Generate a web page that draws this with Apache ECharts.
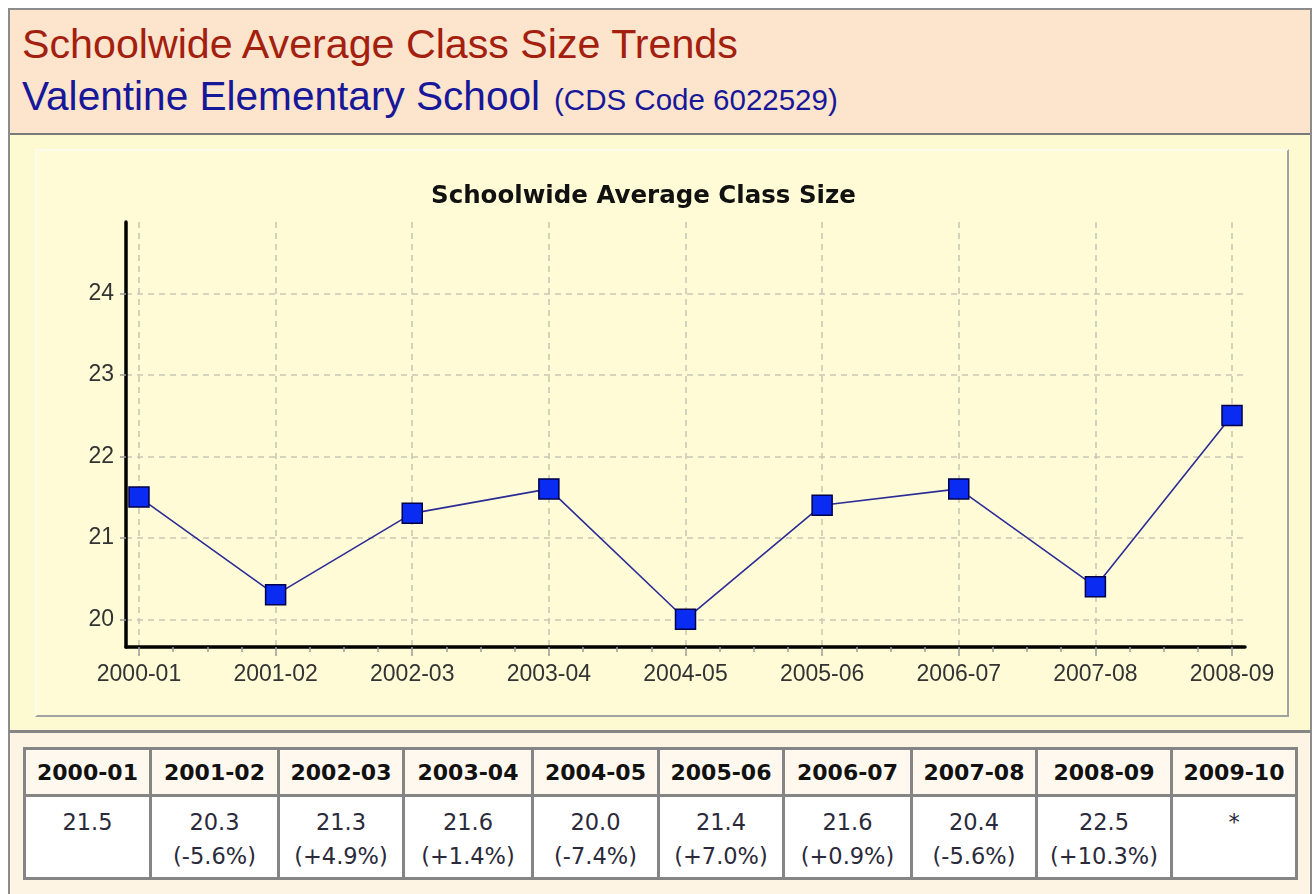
<!DOCTYPE html>
<html>
<head>
<meta charset="utf-8">
<title>Schoolwide Average Class Size Trends</title>
<script src="https://cdn.jsdelivr.net/npm/echarts@6/dist/echarts.min.js"></script>
<style>
  html, body { margin: 0; padding: 0; background: #fff; }
  #page { position: relative; width: 1315px; height: 894px; overflow: hidden; }
  #frame { position: absolute; left: 8px; top: 8px; width: 1300px; height: 900px; border: 2px solid #8c8c8c; }
  #head { position: absolute; left: 10px; top: 10px; width: 1300px; height: 123px; background: #fde4cd; }
  #head .t1 { position: absolute; left: 12px; top: 11px; font: 41.2px "Liberation Sans", Arial, sans-serif; color: #a3200f; white-space: nowrap; }
  #head .t2 { position: absolute; left: 12px; top: 63px; font: 40.6px "Liberation Sans", Arial, sans-serif; color: #17179a; white-space: nowrap; }
  #head .t2 small { font-size: 29.5px; margin-left: 14px; }
  #sep1 { position: absolute; left: 10px; top: 133px; width: 1300px; height: 2px; background: #7a7a7a; }
  #mid { position: absolute; left: 10px; top: 135px; width: 1300px; height: 595px; background: #fdfad2; }
  #panel { position: absolute; left: 35px; top: 149px; width: 1250px; height: 564px;
           background: #fefbd6; border-top: 2px solid #fbfbee; border-left: 2px solid #fbfbee;
           border-right: 2px solid #a2a2a2; border-bottom: 2px solid #a2a2a2; }
  #sep2 { position: absolute; left: 10px; top: 730px; width: 1300px; height: 3px; background: #858585; }
  #bot { position: absolute; left: 10px; top: 733px; width: 1300px; height: 170px; background: #fef4e4; }
  #tbl { position: absolute; left: 23px; top: 747px; width: 1272px; border-collapse: collapse; table-layout: fixed;
         font-family: "DejaVu Sans", Verdana, sans-serif; color: #222; }
  #tbl th, #tbl td { border: 3px solid #858585; text-align: center; padding: 0; }
  #tbl th { background: #fef8ee; height: 44px; font-size: 22px; font-weight: bold; color: #111; }
  #tbl td { background: #fff; height: 72px; font-size: 22.5px; line-height: 34px; vertical-align: top; padding-top: 8px; color: #2a2a3a; }
  #chart { position: absolute; left: 0; top: 0; width: 1315px; height: 894px; }
</style>
</head>
<body>
<div id="page">
  <div id="frame"></div>
  <div id="head">
    <div class="t1">Schoolwide Average Class Size Trends</div>
    <div class="t2">Valentine Elementary School<small>(CDS Code 6022529)</small></div>
  </div>
  <div id="sep1"></div>
  <div id="mid"></div>
  <div id="panel"></div>
  <div id="sep2"></div>
  <div id="bot"></div>
  <table id="tbl"><colgroup id="cols"></colgroup><thead><tr id="hrow"></tr></thead><tbody><tr id="drow"></tr></tbody></table>
  <div id="chart"></div>
</div>
<script>
// 图表数据
const years = ["2000-01", "2001-02", "2002-03", "2003-04", "2004-05", "2005-06", "2006-07", "2007-08", "2008-09"];
const classSize = [21.5, 20.3, 21.3, 21.6, 20.0, 21.4, 21.6, 20.4, 22.5];
const yTicks = [20, 21, 22, 23, 24];

// 表格数据
const tableYears = ["2000-01", "2001-02", "2002-03", "2003-04", "2004-05", "2005-06", "2006-07", "2007-08", "2008-09", "2009-10"];
const tableValues = ["21.5", "20.3", "21.3", "21.6", "20.0", "21.4", "21.6", "20.4", "22.5", "*"];
const tableChanges = ["", "(-5.6%)", "(+4.9%)", "(+1.4%)", "(-7.4%)", "(+7.0%)", "(+0.9%)", "(-5.6%)", "(+10.3%)", ""];
const colWidths = [126, 128, 125, 129, 126, 125, 128, 125, 135, 125];

// 生成表格
const cols = document.getElementById("cols");
const hrow = document.getElementById("hrow");
const drow = document.getElementById("drow");
tableYears.forEach(function (y, i) {
  const col = document.createElement("col");
  col.style.width = colWidths[i] + "px";
  cols.appendChild(col);
  const th = document.createElement("th");
  th.textContent = y;
  hrow.appendChild(th);
  const td = document.createElement("td");
  td.innerHTML = tableValues[i] + (tableChanges[i] ? "<br>" + tableChanges[i] : "");
  drow.appendChild(td);
});

// x 轴刻度（主刻度 + 次刻度）
const majorTicks = years.map(function (_, i) { return i; });
const minorTicks = [];
for (let i = 0; i < years.length - 1; i++) {
  minorTicks.push(i + 0.25, i + 0.5, i + 0.75);
}

const labelFont = { fontFamily: "Liberation Sans, Arial, sans-serif", fontSize: 23, color: "#333" };
const dashed = { color: "#c9c8b4", width: 1.6, type: [6, 5] };

const option = {
  animation: false,
  title: {
    text: "Schoolwide Average Class Size",
    left: 426,
    top: 179,
    textStyle: { fontFamily: "DejaVu Sans", fontWeight: "bold", fontSize: 24.5, color: "#111" }
  },
  grid: { left: 126, right: 70, top: 222, bottom: 247 },
  xAxis: [
    {
      type: "value",
      min: -0.095,
      max: 8.095,
      axisLine: { show: true, onZero: false, lineStyle: { color: "#000", width: 3.5 } },
      axisTick: { show: true, customValues: majorTicks, length: 9, lineStyle: { color: "#9a9a9a", width: 1.5 } },
      axisLabel: Object.assign({ customValues: majorTicks, margin: 16, formatter: function (v) { return years[Math.round(v)]; } }, labelFont),
      splitLine: { show: true, lineStyle: dashed }
    },
    {
      type: "value",
      min: -0.095,
      max: 8.095,
      position: "bottom",
      axisLine: { show: false, onZero: false },
      axisTick: { show: true, customValues: minorTicks, length: 5, lineStyle: { color: "#9a9a9a", width: 1.5 } },
      axisLabel: { show: false },
      splitLine: { show: false }
    }
  ],
  yAxis: {
    type: "value",
    min: 19.66,
    max: 24.875,
    axisLine: { show: true, onZero: false, lineStyle: { color: "#000", width: 3.5 } },
    axisTick: { show: true, customValues: yTicks, length: 6, lineStyle: { color: "#9a9a9a", width: 1.5 } },
    axisLabel: Object.assign({ customValues: yTicks, margin: 12 }, labelFont),
    splitLine: { show: true, lineStyle: dashed }
  },
  series: [
    {
      type: "line",
      xAxisIndex: 0,
      data: classSize.map(function (v, i) { return [i, v]; }),
      symbol: "rect",
      symbolSize: 20,
      lineStyle: { color: "#2c2c96", width: 1.6 },
      itemStyle: { color: "#0a2cf2", borderColor: "#00004a", borderWidth: 1.5 },
      z: 5
    }
  ]
};

const chart = echarts.init(document.getElementById("chart"));
chart.setOption(option);
</script>
</body>
</html>
